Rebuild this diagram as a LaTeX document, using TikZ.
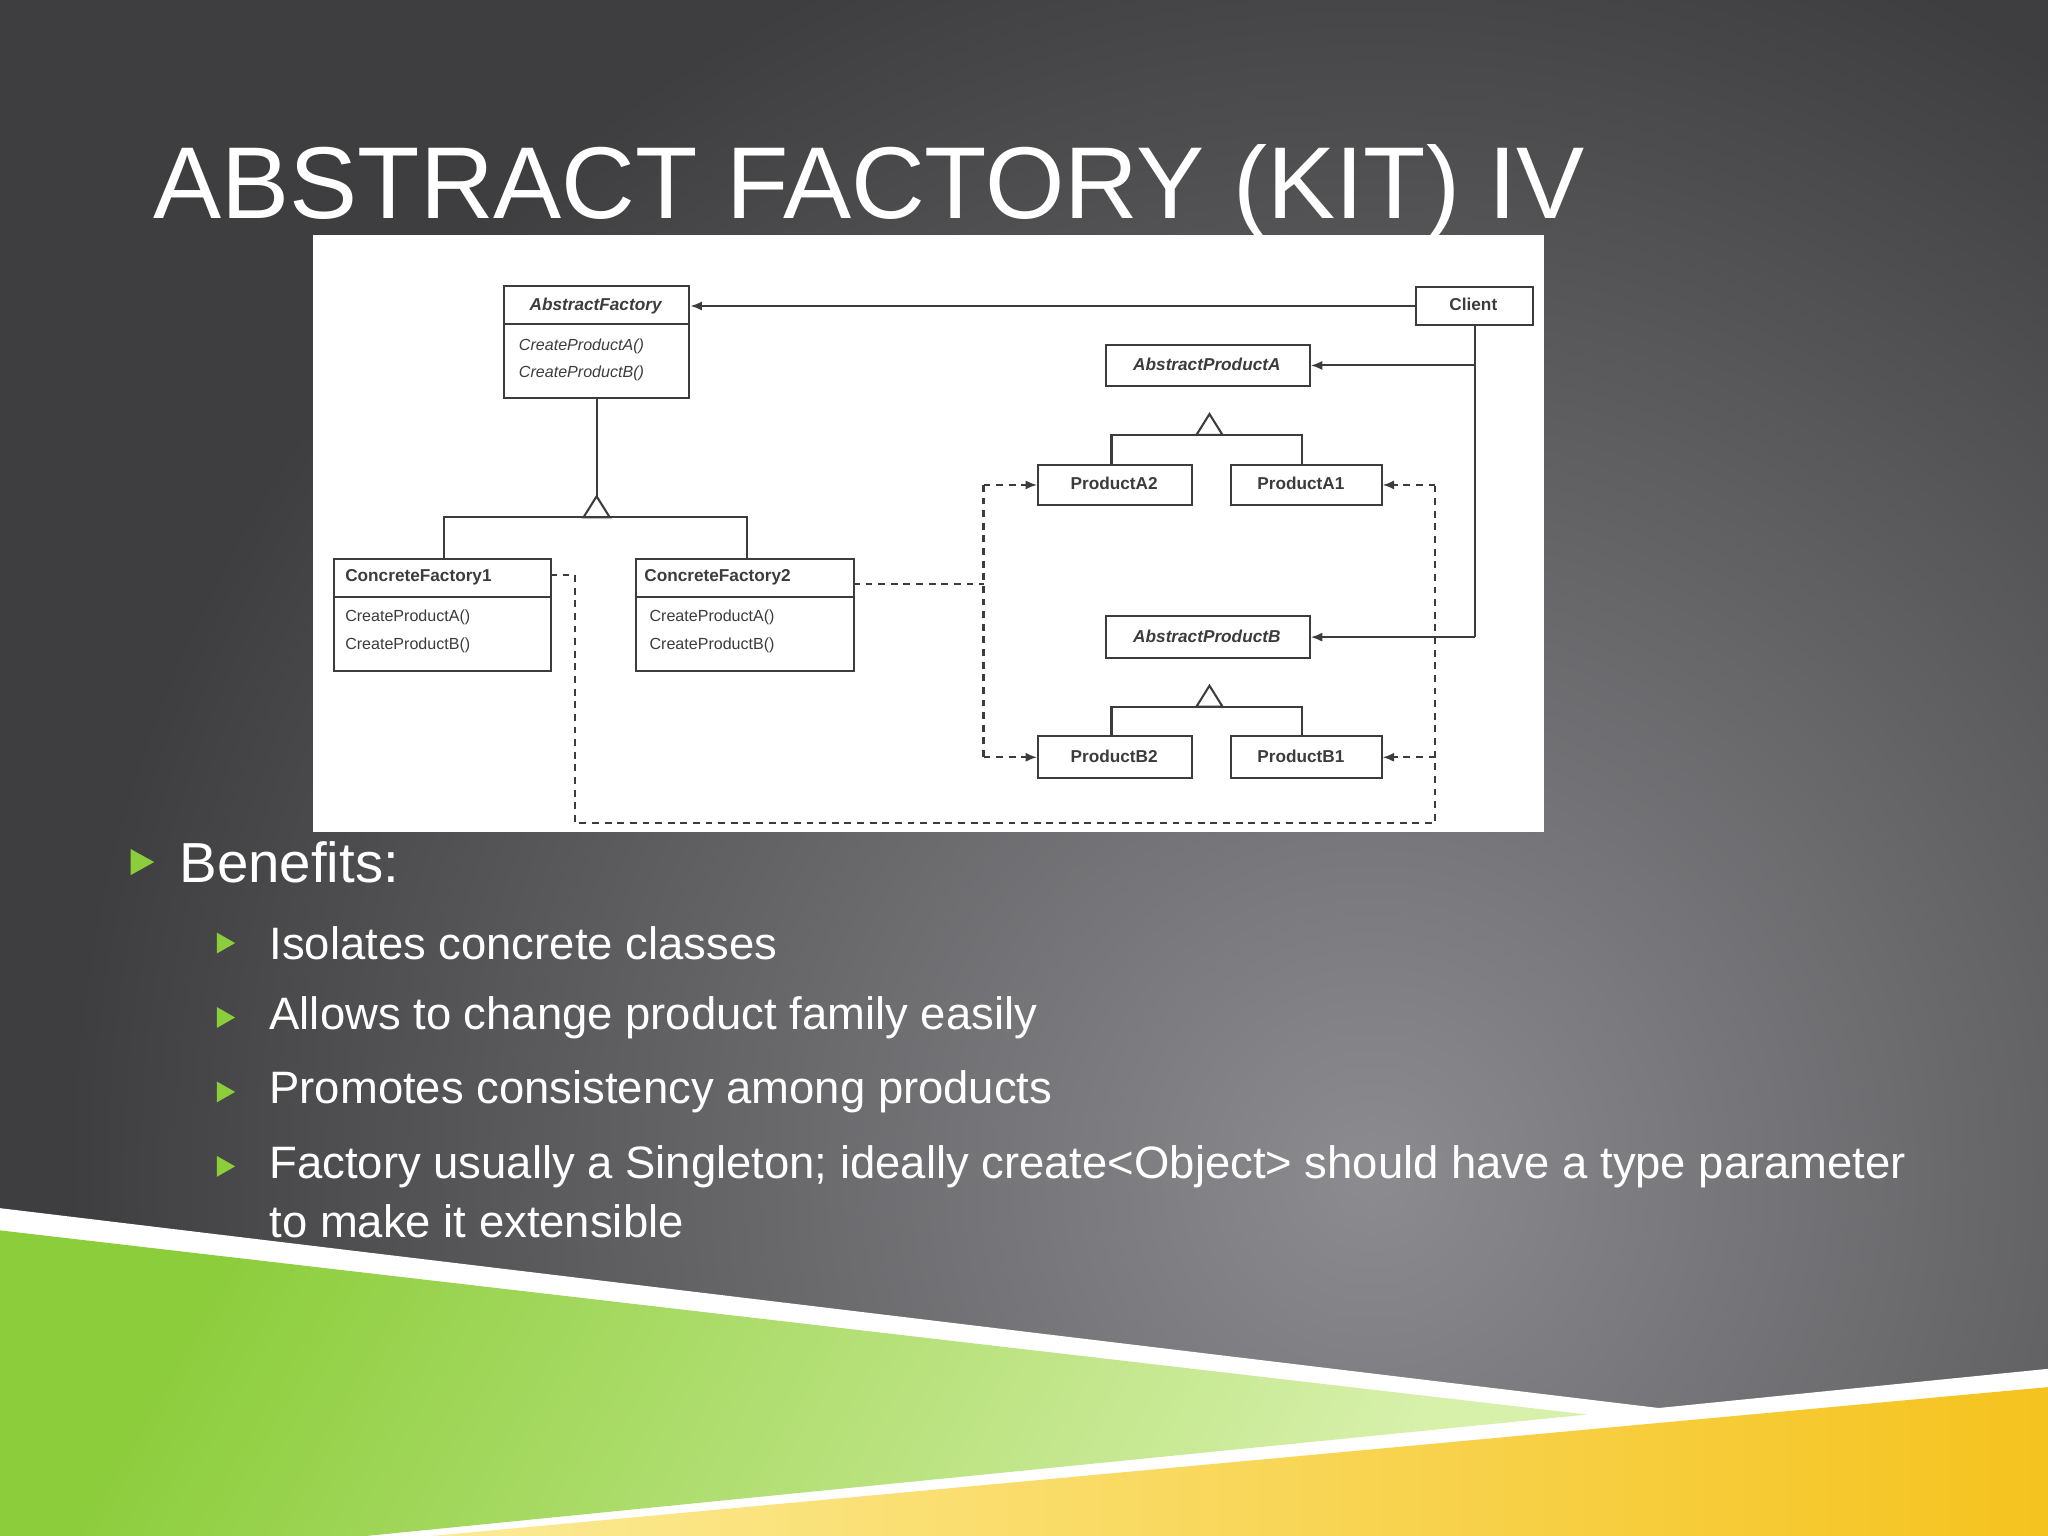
\documentclass[tikz,border=0pt]{standalone}
\usepackage{fontspec}
\setmainfont{Liberation Sans}
\usetikzlibrary{arrows.meta}
\definecolor{bgo}{RGB}{62,62,64}
\definecolor{bgi}{RGB}{140,140,144}
\definecolor{grn}{RGB}{140,205,60}
\definecolor{grnl}{RGB}{215,240,170}
\definecolor{yel}{RGB}{245,195,30}
\definecolor{yell}{RGB}{252,235,150}
\definecolor{ln}{RGB}{60,60,60}
\begin{document}
\begin{tikzpicture}[x=0.02cm,y=-0.02cm,
  box/.style={draw=ln,line width=0.9pt,fill=white,inner sep=0pt,anchor=north west},
  lbl/.style={font=\bfseries\fontsize{7.5}{9}\selectfont,text=ln},
  op/.style={font=\fontsize{7}{9}\selectfont,text=ln,anchor=west,inner sep=0pt},
  con/.style={ln,line width=0.9pt},
  dsh/.style={ln,line width=0.9pt,dash pattern=on 3pt off 2.5pt},
  tip/.style={-{Latex[length=5pt,width=4pt]}},
  tri/.style={draw=ln,line width=0.9pt,fill=white},
  bul/.style={fill=grn},
  txt/.style={text=white,anchor=west,inner sep=0pt}]
\useasboundingbox (0,0) rectangle (1568,1176);
\fill[bgo] (0,0) rectangle (1568,1176);
\begin{scope}
\clip (0,0) rectangle (1568,1176);
\shade[inner color=bgi,outer color=bgo] (1050,900) circle (1000);
\end{scope}
% bottom bands
\fill[white] (0,925) -- (1270,1078) -- (1568,1048) -- (1568,1176) -- (0,1176) -- cycle;
\shade[left color=grn,right color=grnl,shading angle=60] (0,942) -- (1215,1083) -- (280,1176) -- (0,1176) -- cycle;
\shade[left color=yell,right color=yel] (330,1176) -- (1568,1062) -- (1568,1176) -- cycle;
% title
\node[txt,font=\fontsize{44.5}{48}\selectfont] (title) at (117,147) {ABSTRACT FACTORY (KIT) IV};
% diagram panel
\fill[white] (240,180) rectangle (1182,637);
% classes
\node[box,minimum width=142*0.02cm,minimum height=86*0.02cm] (af) at (385,218) {};
\draw[con] (385,248) -- (527,248);
\node[lbl,font=\bfseries\itshape\fontsize{7.5}{9}\selectfont] at (456,234) {AbstractFactory};
\node[op,font=\itshape\fontsize{7}{9}\selectfont] at (397,265) {CreateProductA()};
\node[op,font=\itshape\fontsize{7}{9}\selectfont] at (397,286) {CreateProductB()};
\node[box,minimum width=90*0.02cm,minimum height=29*0.02cm] (cl) at (1083,219) {};
\node[lbl] at (1128,233) {Client};
\node[box,minimum width=156*0.02cm,minimum height=32*0.02cm] (apa) at (846,263) {};
\node[lbl,font=\bfseries\itshape\fontsize{7.5}{9}\selectfont] at (924,279) {AbstractProductA};
\node[box,minimum width=118*0.02cm,minimum height=31*0.02cm] (pa2) at (794,355) {};
\node[lbl] at (853,370) {ProductA2};
\node[box,minimum width=115*0.02cm,minimum height=31*0.02cm] (pa1) at (942,355) {};
\node[lbl] at (996,370) {ProductA1};
\node[box,minimum width=156*0.02cm,minimum height=32*0.02cm] (apb) at (846,471) {};
\node[lbl,font=\bfseries\itshape\fontsize{7.5}{9}\selectfont] at (924,487) {AbstractProductB};
\node[box,minimum width=118*0.02cm,minimum height=32*0.02cm] (pb2) at (794,563) {};
\node[lbl] at (853,579) {ProductB2};
\node[box,minimum width=115*0.02cm,minimum height=32*0.02cm] (pb1) at (942,563) {};
\node[lbl] at (996,579) {ProductB1};
\node[box,minimum width=166*0.02cm,minimum height=86*0.02cm] (cf1) at (255,427) {};
\draw[con] (255,457) -- (421,457);
\node[lbl,anchor=west,inner sep=0pt] at (264,442) {ConcreteFactory1};
\node[op] at (264,473) {CreateProductA()};
\node[op] at (264,494) {CreateProductB()};
\node[box,minimum width=167*0.02cm,minimum height=86*0.02cm] (cf2) at (486,427) {};
\draw[con] (486,457) -- (653,457);
\node[lbl,anchor=west,inner sep=0pt] at (493,442) {ConcreteFactory2};
\node[op] at (497,473) {CreateProductA()};
\node[op] at (497,494) {CreateProductB()};
% inheritance
\draw[con] (af.south) -- (af.south |- 0,380);
\draw[tri] (af.south |- 0,380) -- ++(10,16) -- ++(-20,0) -- cycle;
\draw[con] (340,427) -- (340,396) -- (572,396) -- (572,427);
\draw[tri] (926,317) -- (936,333) -- (916,333) -- cycle;
\draw[con] (851,355) -- (851,333) -- (997,333) -- (997,355);
\draw[tri] (926,525) -- (936,541) -- (916,541) -- cycle;
\draw[con] (851,563) -- (851,541) -- (997,541) -- (997,563);
% associations
\draw[con,tip] (cl.west) -- (af.east |- cl.west);
\draw[con] (1129,248) -- (1129,488);
\draw[con,tip] (1129,0 |- apa.east) -- (apa.east);
\draw[con,tip] (1129,0 |- apb.east) -- (apb.east);
% dependencies
\draw[dsh] (421,440) -- (440,440) -- (440,630) -- (1099,630) -- (1099,370);
\draw[dsh,tip] (1099,0 |- pa1.east) -- (pa1.east);
\draw[dsh,tip] (1099,0 |- pb1.east) -- (pb1.east);
\draw[dsh] (653,447) -- (753,447);
\draw[dsh] (753,0 |- pa2.west) -- (753,0 |- pb2.west);
\draw[dsh,tip] (753,0 |- pa2.west) -- (pa2.west);
\draw[dsh,tip] (753,0 |- pb2.west) -- (pb2.west);
% bullets
\fill[bul] (100,650) -- (118,660) -- (100,670) -- cycle;
\node[txt,font=\fontsize{24.6}{28}\selectfont] (b0) at (137,660) {Benefits:};
\foreach \y/\t in {722/Isolates concrete classes,779/Allows to change product family easily,836/Promotes consistency among products,893/{Factory usually a Singleton; ideally create<Object> should have a type parameter}}{
  \fill[bul] (166,\y-8) -- (180,\y) -- (166,\y+8) -- cycle;
  \node[txt,font=\fontsize{19.8}{23}\selectfont] at (206,\y) {\t};
}
\node[txt,font=\fontsize{19.8}{23}\selectfont] (b5) at (206,935) {to make it extensible};
\end{tikzpicture}
\end{document}
